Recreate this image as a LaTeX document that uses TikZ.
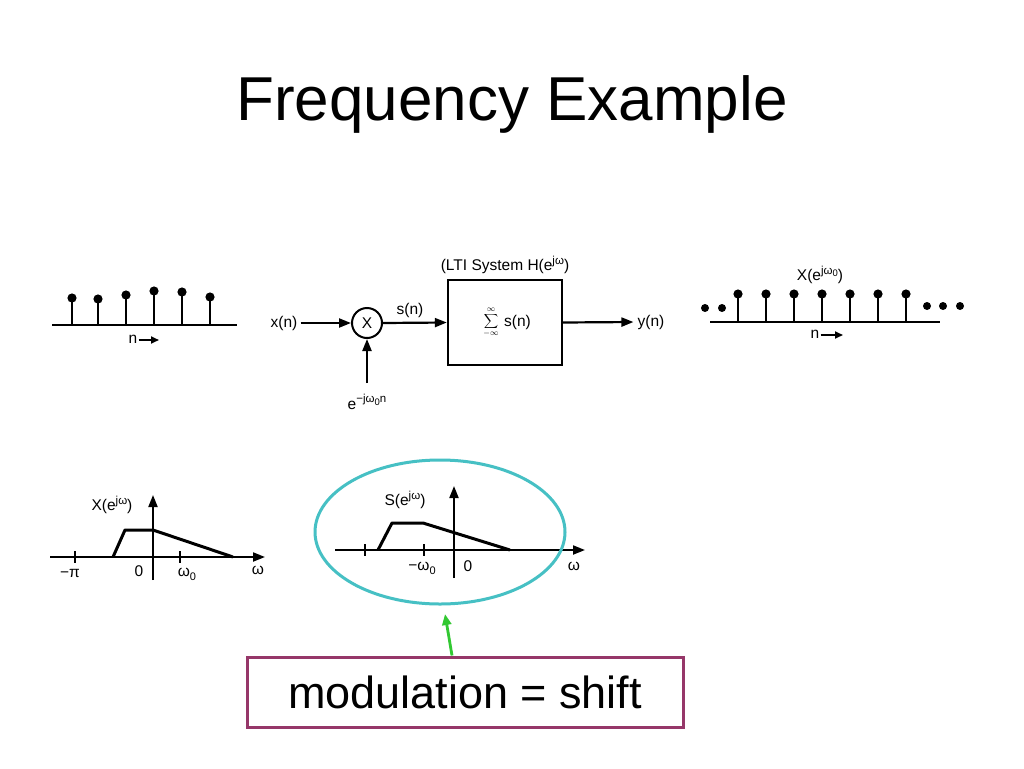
\documentclass[tikz,border=0pt]{standalone}
\usepackage{fontspec}
\setmainfont{Liberation Sans}
\usetikzlibrary{arrows.meta}
\newcommand\mysup[1]{\raisebox{0.42em}{\fontsize{11.5}{12}\selectfont #1}}
\newcommand\mysub[1]{\raisebox{-0.25em}{\fontsize{11}{12}\selectfont #1}}
\newcommand\mysubb[1]{\raisebox{-0.2em}{\fontsize{9.5}{10}\selectfont #1}}
\begin{document}
\begin{tikzpicture}[x=1pt,y=-1pt,
  lbl/.style={font=\fontsize{15.5}{17}\selectfont, inner sep=0pt},
  axisln/.style={line width=2pt},
  stem/.style={line width=2.6pt},
  sig/.style={line width=3pt, line join=round},
  arr/.style={line width=2.2pt, -{Triangle[length=12pt,width=9pt]}},
  smallarr/.style={line width=1.8pt, -{Triangle[length=8pt,width=7pt]}},
  tick/.style={line width=1.8pt}]
\useasboundingbox (0,0) rectangle (1024,768);
\fill[white] (0,0) rectangle (1024,768);
\definecolor{teal1}{RGB}{70,192,196}
\definecolor{maroon1}{RGB}{150,55,105}
\definecolor{green1}{RGB}{50,200,50}

% title
\node[anchor=base, font=\fontsize{62}{70}\selectfont, inner sep=0pt] (title) at (512,120) {Frequency Example};

% ---- top left stem plot
\draw[axisln] (52,325) -- (237,325);
\foreach \x/\t in {72/298,98/299,126/295,154/291,182/292,210/297}{
  \draw[stem] (\x,325) -- (\x,\t);
  \fill (\x,\t) circle (4.6);
}
\node[lbl] (nl1) at (133,339) {n};
\coordinate (nl1e) at (159,340);
\draw[smallarr] (nl1.east) ++(1,1) -- (nl1e);

% ---- block diagram
\node[lbl] (xn) at (284,323) {x(n)};
\node[draw, circle, line width=2pt, minimum size=30pt, inner sep=0pt, font=\fontsize{15.5}{17}\selectfont] (mult) at (367,323) {X};
\node[draw, line width=2.4pt, minimum width=114pt, minimum height=85pt, inner sep=0pt] (sys) at (505,322.5) {};
\node[inner sep=0pt, font=\fontsize{12}{14}\selectfont] (sum) at (491,322) {$\displaystyle\sum_{-\infty}^{\infty}$};
\node[lbl, anchor=west] (sn2) at (504,322) {s(n)};
\node[lbl] (lti) at (505,265) {(LTI System H(e\mysup{jω})};
\node[lbl] (sn) at (410,310) {s(n)};
\node[lbl] (yn) at (651,322) {y(n)};
\node[lbl] (ex) at (367,402) {e\mysup{−jω\mysubb{0}n}};
\coordinate (exs) at (367,383);
\draw[arr] (xn.east) ++(3,0) -- (mult.west);
\draw[arr] (mult.east) -- (sys.west);
\draw[arr] (exs) -- (mult.south);
\draw[arr] (sys.east) -- ([xshift=-4pt]yn.west);

% ---- top right stem plot
\draw[axisln] (710,322) -- (940,322);
\foreach \x in {738,766,794,822,850,878,906}{
  \draw[stem] (\x,322) -- (\x,294);
  \fill (\x,294) circle (4.6);
}
\foreach \x/\t in {705/308,722/308,927/306,943/306,960/306}{
  \fill (\x,\t) circle (4);
}
\node[lbl] (Xw0) at (820,275) {X(e\mysup{jω\mysubb{0}})};
\node[lbl] (nl2) at (815,334) {n};
\coordinate (nl2e) at (843,335);
\draw[smallarr] (nl2.east) ++(1,1) -- (nl2e);

% ---- bottom left spectrum
\coordinate (a1s) at (50,557);
\coordinate (a1e) at (265,557);
\coordinate (v1s) at (153,580);
\coordinate (v1e) at (153,495);
\draw[axisln, -{Triangle[length=12pt,width=9pt]}] (a1s) -- (a1e);
\draw[axisln, -{Triangle[length=12pt,width=9pt]}] (v1s) -- (v1e);
\draw[tick] (75,551) -- (75,563);
\draw[tick] (180,551) -- (180,563);
\draw[sig] (113,557) -- (125,530) -- (153,530) -- (233,557);
\node[lbl] (Xl) at (112,505) {X(e\mysup{jω})};
\node[lbl] (mpi) at (70,573) {−π};
\node[lbl] (z1) at (139,571) {0};
\node[lbl] (w01) at (187,574) {ω\mysub{0}};
\node[lbl] (w1) at (258,570) {ω};

% ---- bottom middle spectrum
\coordinate (a2s) at (335,550);
\coordinate (a2e) at (585,550);
\coordinate (v2s) at (454,578);
\coordinate (v2e) at (454,486);
\draw[axisln, -{Triangle[length=12pt,width=9pt]}] (a2s) -- (a2e);
\draw[axisln, -{Triangle[length=12pt,width=9pt]}] (v2s) -- (v2e);
\draw[tick] (365,544) -- (365,556);
\draw[tick] (424,544) -- (424,556);
\draw[sig] (378,550) -- (392,523) -- (423,523) -- (510,550);
\node[lbl] (Sl) at (405,500) {S(e\mysup{jω})};
\node[lbl] (mw0) at (422,568) {−ω\mysub{0}};
\node[lbl] (z2) at (468,566) {0};
\node[lbl] (w2) at (574,566) {ω};

% ellipse highlight
\draw[teal1, line width=3pt] (440,532) ellipse [x radius=125, y radius=72];
\coordinate (ellb) at (445,614);

% annotation box
\node[draw=maroon1, line width=3pt, minimum width=436pt, minimum height=70pt, inner sep=0pt,
      font=\fontsize{45}{50}\selectfont] (mod) at (465,692) {modulation = shift};
\draw[green1, line width=2.8pt, -{Triangle[length=11pt,width=9pt]}] ([xshift=-13pt]mod.north) -- (ellb);
\end{tikzpicture}
\end{document}
